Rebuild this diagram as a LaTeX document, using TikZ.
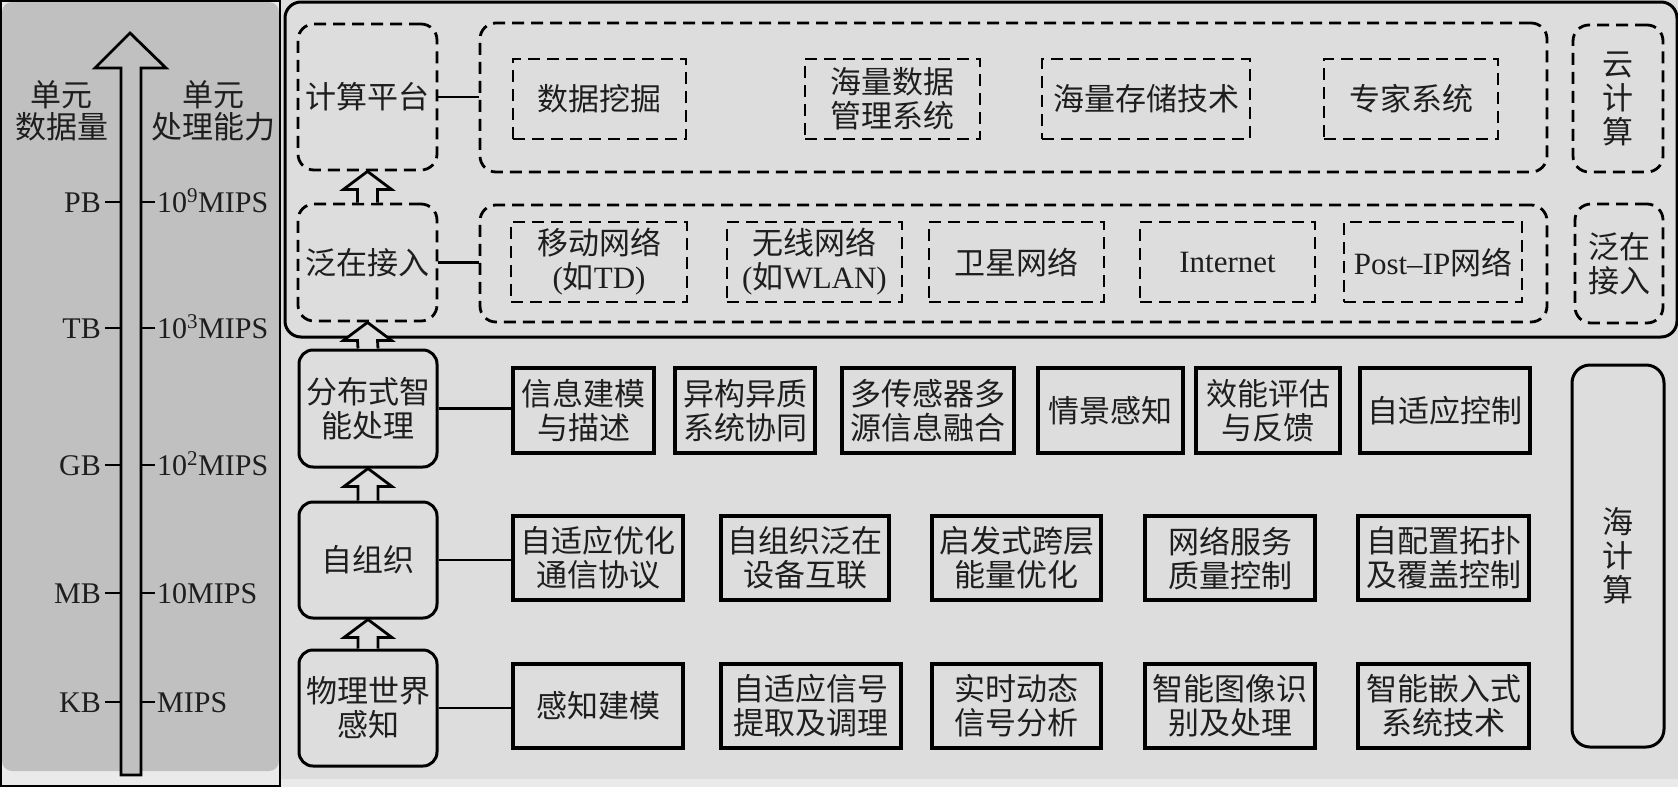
\documentclass[tikz,border=0pt]{standalone}
\usepackage{fontspec}
\setmainfont{Liberation Serif}
\newfontfamily\zh{Noto Sans CJK SC}
\usetikzlibrary{calc}
\definecolor{bgc}{RGB}{221,221,221}
\definecolor{bandc}{RGB}{234,234,234}
\definecolor{panelc}{RGB}{192,192,192}
\definecolor{txt}{RGB}{30,30,30}
\newcommand\en[1]{{\rmfamily #1}}
\newcommand\bx[7]{\node[#1,minimum width={(#5)-(#3)},minimum height={(#6)-(#4)}] (#2) at ({((#3)+(#5))/2},{((#4)+(#6))/2}) {#7};}
\newcommand\harrow[2]{\draw[harr] ($(#1.north)+(-10,0)$) -- ($(#2.south)+(-10,18)$) -- ($(#2.south)+(-24,18)$) -- (#2.south) -- ($(#2.south)+(24,18)$) -- ($(#2.south)+(10,18)$) -- ($(#1.north)+(10,0)$);}
\begin{document}
\begin{tikzpicture}[x=1pt,y=-1pt,
  every node/.style={text=txt, inner sep=0pt, align=center, font=\fontsize{31}{34}\zh},
  sbox/.style={draw, line width=3.2pt},
  rbox/.style={draw, line width=3pt, rounded corners=14pt},
  dbox/.style={draw, line width=2.8pt, dash pattern=on 12pt off 7pt},
  drbox/.style={dbox, rounded corners=16pt},
  conn/.style={line width=2.2pt},
  harr/.style={draw, line width=2.8pt, fill=bgc, line join=miter},
  tickln/.style={line width=2.6pt},
  lab/.style={font=\fontsize{30}{34}\rmfamily},
  hdr/.style={font=\fontsize{31}{32}\zh}]
\useasboundingbox (0,0) rectangle (1678,787);
% background
\fill[bgc] (0,0) rectangle (1678,787);
\fill[bandc] (281,779) rectangle (1678,787);
% left panel
\fill[bandc] (0,0) rectangle (281,786);
\fill[panelc, rounded corners=10pt] (2,2) rectangle (279,771);
\draw[line width=2.2pt] (1,1) rectangle (280,786);
\draw[line width=2.8pt, fill=panelc, line join=miter] (121,775) -- (121,68) -- (95,68) -- (130,33) -- (166,68) -- (141,68) -- (141,775) -- cycle;
\foreach \yy in {202,328,465,593,702}{
  \draw[tickln] (105,\yy) -- (121,\yy);
  \draw[tickln] (141,\yy) -- (155,\yy);
}
\node[hdr] (h1) at (62,111) {单元\\数据量};
\node[hdr] (h2) at (213,111) {单元\\处理能力};
\node[lab, anchor=base east] (pb) at (101,212) {PB};
\node[lab, anchor=base east] (tb) at (101,338) {TB};
\node[lab, anchor=base east] (gb) at (101,475) {GB};
\node[lab, anchor=base east] (mb) at (101,603) {MB};
\node[lab, anchor=base east] (kb) at (101,712) {KB};
\node[lab, anchor=base west] (m9) at (157,212) {10\textsuperscript{9}MIPS};
\node[lab, anchor=base west] (m3) at (157,338) {10\textsuperscript{3}MIPS};
\node[lab, anchor=base west] (m2) at (157,475) {10\textsuperscript{2}MIPS};
\node[lab, anchor=base west] (m1) at (157,603) {10MIPS};
\node[lab, anchor=base west] (m0) at (157,712) {MIPS};
% top section
\bx{rbox, rounded corners=16pt}{cloudsec}{285}{2}{1677}{337}{}
\bx{drbox}{jspt}{298}{24}{437}{170}{计算平台}
\bx{drbox}{fzl}{298}{204}{437}{321}{泛在接入}
\bx{drbox}{jsbig}{480}{23}{1547}{172}{}
\bx{drbox}{fzbig}{480}{205}{1547}{322}{}
\bx{drbox}{yjs}{1573}{25}{1663}{172}{云\\计\\算}
\bx{drbox}{fzr}{1575}{204}{1663}{323}{泛在\\接入}
\bx{dbox}{sjwj}{513}{59}{686}{139}{数据挖掘}
\bx{dbox}{hlsj}{805}{59}{980}{139}{海量数据\\管理系统}
\bx{dbox}{hlcc}{1042}{59}{1250}{139}{海量存储技术}
\bx{dbox}{zjxt}{1324}{59}{1498}{139}{专家系统}
\bx{dbox}{yd}{511}{222}{687}{302}{移动网络\\\en{(}如\en{TD)}}
\bx{dbox}{wx}{727}{222}{902}{302}{无线网络\\\en{(}如\en{WLAN)}}
\bx{dbox}{wxw}{929}{222}{1104}{302}{卫星网络}
\bx{dbox}{inet}{1140}{222}{1315}{302}{\en{Internet}}
\bx{dbox}{pip}{1344}{222}{1522}{302}{\en{Post–IP}网络}
% bottom section
\bx{rbox}{fb}{299}{350}{437}{467}{分布式智\\能处理}
\bx{rbox}{zzz}{299}{502}{437}{618}{自组织}
\bx{rbox}{wl}{299}{650}{437}{766}{物理世界\\感知}
\bx{sbox}{r11}{513}{368}{654}{453}{信息建模\\与描述}
\bx{sbox}{r12}{675}{368}{815}{453}{异构异质\\系统协同}
\bx{sbox}{r13}{842}{368}{1014}{453}{多传感器多\\源信息融合}
\bx{sbox}{r14}{1038}{368}{1183}{453}{情景感知}
\bx{sbox}{r15}{1196}{368}{1340}{453}{效能评估\\与反馈}
\bx{sbox}{r16}{1360}{368}{1530}{453}{自适应控制}
\bx{sbox}{r21}{513}{516}{683}{600}{自适应优化\\通信协议}
\bx{sbox}{r22}{721}{516}{889}{600}{自组织泛在\\设备互联}
\bx{sbox}{r23}{932}{516}{1101}{600}{启发式跨层\\能量优化}
\bx{sbox}{r24}{1145}{516}{1315}{600}{网络服务\\质量控制}
\bx{sbox}{r25}{1358}{516}{1529}{600}{自配置拓扑\\及覆盖控制}
\bx{sbox}{r31}{513}{664}{683}{748}{感知建模}
\bx{sbox}{r32}{721}{664}{901}{748}{自适应信号\\提取及调理}
\bx{sbox}{r33}{932}{664}{1101}{748}{实时动态\\信号分析}
\bx{sbox}{r34}{1145}{664}{1315}{748}{智能图像识\\别及处理}
\bx{sbox}{r35}{1358}{664}{1529}{748}{智能嵌入式\\系统技术}
\bx{rbox, rounded corners=18pt}{hjs}{1572}{365}{1664}{747}{海\\计\\算}
% connectors
\draw[conn] (jspt.east) -- (jspt.east -| jsbig.west);
\draw[conn] (fzl.east) -- (fzl.east -| fzbig.west);
\draw[conn] (fb.east) -- (fb.east -| r11.west);
\draw[conn] (zzz.east) -- (zzz.east -| r21.west);
\draw[conn] (wl.east) -- (wl.east -| r31.west);
% hollow arrows
\harrow{fzl}{jspt}
\harrow{fb}{fzl}
\harrow{zzz}{fb}
\harrow{wl}{zzz}
\end{tikzpicture}
\end{document}
